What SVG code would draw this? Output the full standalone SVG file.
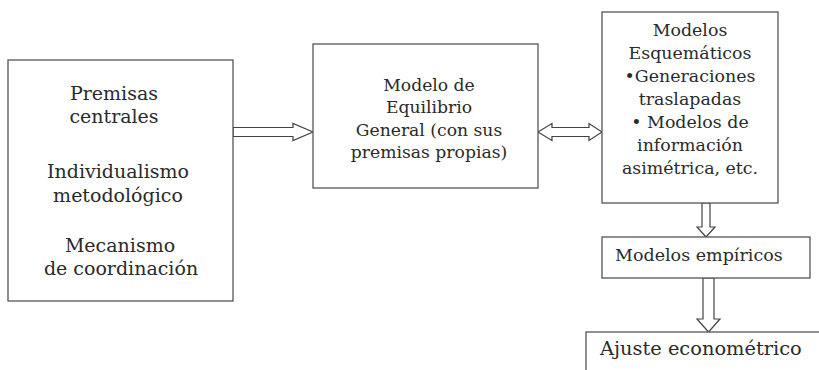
<svg xmlns="http://www.w3.org/2000/svg" width="819" height="370" viewBox="0 0 819 370">
<style>
.box{fill:#fff;stroke:#555;stroke-width:1.3}
.arr{fill:#fff;stroke:#444;stroke-width:1.2;stroke-linejoin:miter}
text{fill:#2a2a2a;font-family:'DejaVu Serif','Liberation Serif',serif}
.l{font-size:19px;text-anchor:middle}
.m{font-size:17.2px;text-anchor:middle}
.r{font-size:17.4px;text-anchor:middle}
.s{font-size:17.5px}
</style>
<rect width="819" height="370" fill="#fff"/>
<g id="connectors">
<polygon class="arr" points="233,127.5 293,127.5 293,123.5 313,132 293,140.5 293,136.5 233,136.5"/>
<polygon class="arr" points="538,132 552,123.5 552,127.5 589,127.5 589,123.5 602,132 589,140.5 589,136.5 552,136.5 552,140.5"/>
<polygon class="arr" points="702,203 710,203 710,227 715,227 706,237 697,227 702,227"/>
<polygon class="arr" points="703,278 714,278 714,319 720,319 708.5,332 697,319 703,319"/>
</g>
<g id="premisas">
<rect class="box" x="8" y="60" width="225" height="241"/>
<text class="l" x="114" y="100">Premisas</text>
<text class="l" x="114" y="123">centrales</text>
<text class="l" x="118" y="178">Individualismo</text>
<text class="l" x="118" y="202">metodológico</text>
<text class="l" x="120" y="252">Mecanismo</text>
<text class="l" x="121" y="275">de coordinación</text>
</g>
<g id="equilibrio">
<rect class="box" x="313" y="44" width="225" height="144"/>
<text class="m" x="429" y="91">Modelo de</text>
<text class="m" x="429" y="113">Equilibrio</text>
<text class="m" x="429" y="136">General (con sus</text>
<text class="m" x="429" y="158">premisas propias)</text>
</g>
<g id="esquematicos">
<rect class="box" x="602" y="12" width="176" height="191"/>
<text class="r" x="690" y="36">Modelos</text>
<text class="r" x="690" y="59">Esquemáticos</text>
<text class="r" x="690" y="82">•Generaciones</text>
<text class="r" x="690" y="105">traslapadas</text>
<text class="r" x="690" y="128">• Modelos de</text>
<text class="r" x="690" y="151">información</text>
<text class="r" x="690" y="174">asimétrica, etc.</text>
</g>
<g id="empiricos">
<rect class="box" x="602" y="237" width="208" height="41"/>
<text class="s" x="615" y="261">Modelos empíricos</text>
</g>
<g id="ajuste">
<rect class="box" x="586" y="332" width="240" height="60"/>
<text class="s" x="600" y="355" style="font-size:19.4px">Ajuste econométrico</text>
</g>
</svg>
